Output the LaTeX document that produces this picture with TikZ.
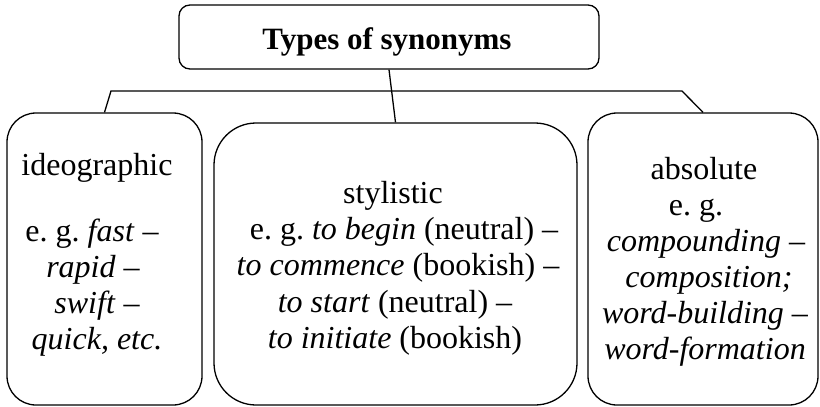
\documentclass[tikz,border=0pt]{standalone}
\usepackage{fontspec}
\setmainfont{LiberationSerif}[
  Extension=.ttf,
  UprightFont=*-Regular,
  ItalicFont=*-Italic,
  BoldFont=*-Bold,
  BoldItalicFont=*-BoldItalic]
\frenchspacing
\begin{document}
\begin{tikzpicture}[x=1pt,y=-1pt,
  box/.style={draw, line width=1.3pt, inner sep=0pt},
  conn/.style={draw, line width=1.3pt},
  txt/.style={anchor=base, inner sep=0pt, font=\fontsize{32}{36}\selectfont},
  ttl/.style={anchor=base, inner sep=0pt, font=\fontsize{31}{36}\selectfont\bfseries}]
\useasboundingbox (0,0) rectangle (820,407);

% boxes
\node[box, rounded corners=11pt, minimum width=420pt, minimum height=64pt] (title) at (389,37) {};
\node[box, rounded corners=29pt, minimum width=195pt, minimum height=292pt] (ideo) at (104.5,259) {};
\node[box, rounded corners=42pt, minimum width=363pt, minimum height=282pt] (styl) at (395.5,264) {};
\node[box, rounded corners=29pt, minimum width=230pt, minimum height=292pt] (abso) at (703,259) {};

% connectors
\coordinate (bl) at (111,91);
\coordinate (br) at (682,91);
\draw[conn] (title.south) -- (styl.north);
\draw[conn] (ideo.north) -- (bl) -- (br) -- (abso.north);

% heading
\node[ttl] (head) at (387,49) {Types of synonyms};

% ideographic
\node[txt] (i1) at (97,175) {ideographic};
\node[txt] (i2) at (92,241) {e. g. \textit{fast} –};
\node[txt] (i3) at (93,277) {\textit{rapid} –};
\node[txt] (i4) at (97,313) {\textit{swift} –};
\node[txt] (i5) at (97,349) {\textit{quick, etc.}};

% stylistic
\node[txt] (s1) at (393,203) {stylistic};
\node[txt] (s2) at (404,239) {e. g. \textit{to begin} (neutral) –};
\node[txt] (s3) at (398,275) {\textit{to commence} (bookish) –};
\node[txt] (s4) at (395,312) {\textit{to start} (neutral) –};
\node[txt] (s5) at (395,348) {\textit{to initiate} (bookish)};

% absolute
\node[txt] (a1) at (704,179) {absolute};
\node[txt] (a2) at (696,215) {e. g.};
\node[txt] (a3) at (706,251) {\textit{compounding} –};
\node[txt] (a4) at (709,287) {\textit{composition;}};
\node[txt] (a5) at (705,323) {\textit{word-building} –};
\node[txt] (a6) at (705,359) {\textit{word-formation}};
\end{tikzpicture}
\end{document}
